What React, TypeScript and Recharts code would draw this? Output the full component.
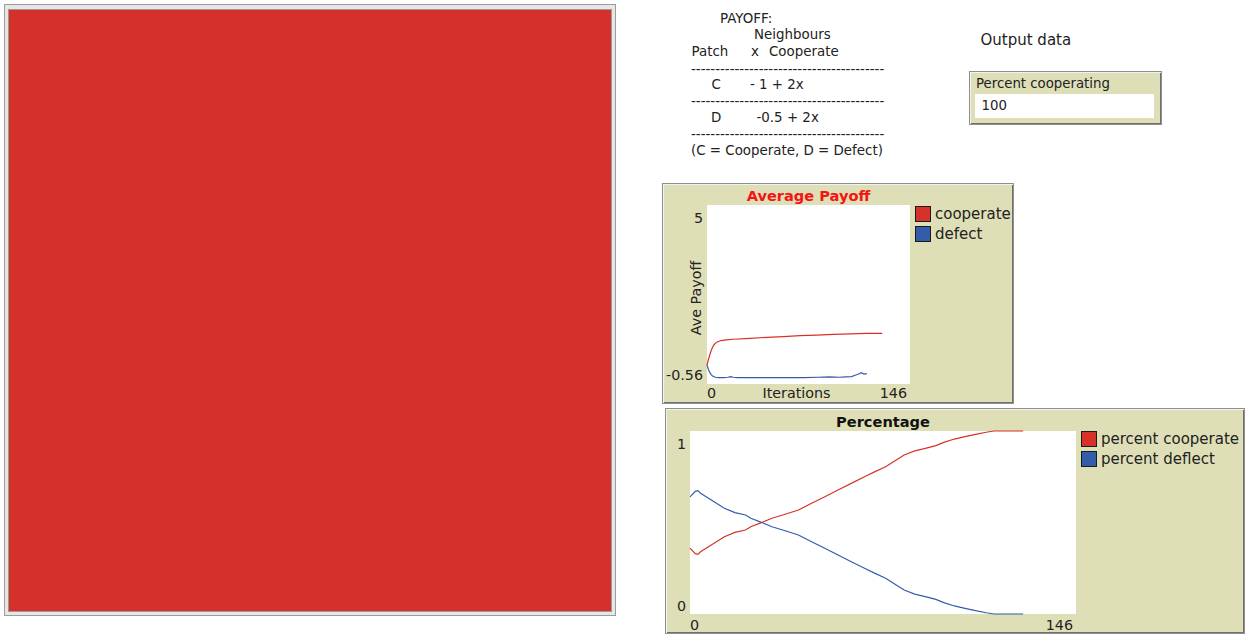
import { CartesianGrid, Label, Legend, Line, LineChart, XAxis, YAxis } from "recharts";

const FONT = "'DejaVu Sans', sans-serif";
const INK = "#222";
const RED = "#d73229";
const BLUE = "#345da9";
const PANEL = "#dfdfb7";

// x range shared by both plots
const iterRange = [0, 146];

// Average Payoff plot
const payoffRange = [-0.56, 5];
const coopPayoffIter = [0, 1, 2, 3, 4, 5, 7, 10, 14, 19, 31, 43, 55, 67, 79, 91, 103, 115, 126];
const coopPayoff = [0.02, 0.2, 0.34, 0.48, 0.58, 0.66, 0.74, 0.79, 0.81, 0.83, 0.86, 0.89, 0.91, 0.94, 0.96, 0.98, 1.0, 1.01, 1.01];
const defectPayoffIter = [0, 1, 2, 3, 4, 6, 8, 12, 15, 17, 19, 22, 30, 50, 70, 80, 88, 95, 100, 104, 107, 109, 111, 113, 115];
const defectPayoff = [0.02, -0.1, -0.2, -0.27, -0.31, -0.35, -0.36, -0.36, -0.35, -0.33, -0.35, -0.36, -0.36, -0.36, -0.36, -0.35, -0.34, -0.35, -0.34, -0.33, -0.28, -0.25, -0.21, -0.25, -0.24];

// Percentage plot
const pctRange = [0, 1];
const pctIter = [0, 2, 3, 4, 7, 10, 13, 17, 21, 23, 27, 31, 36, 41, 46, 51, 56, 61, 66, 70, 74, 78, 81, 85, 89, 93, 96, 100, 104, 108, 112, 115, 126];
const pctCooperate = [0.36, 0.33, 0.326, 0.34, 0.368, 0.395, 0.422, 0.446, 0.459, 0.477, 0.499, 0.523, 0.545, 0.568, 0.605, 0.641, 0.678, 0.714, 0.75, 0.778, 0.805, 0.842, 0.869, 0.891, 0.905, 0.92, 0.938, 0.956, 0.969, 0.982, 0.993, 1, 1];
const pctDefect = [0.64, 0.67, 0.674, 0.66, 0.632, 0.605, 0.578, 0.554, 0.541, 0.523, 0.501, 0.477, 0.455, 0.432, 0.395, 0.359, 0.322, 0.286, 0.25, 0.222, 0.195, 0.158, 0.131, 0.109, 0.095, 0.08, 0.062, 0.044, 0.031, 0.018, 0.007, 0, 0];

type Series = { key: string; xs: number[]; ys: number[] };

function mergeSeries(series: Series[]) {
	const rows = new Map<number, Record<string, number>>();
	series.forEach((s) =>
		s.xs.forEach((x, i) => {
			const row = rows.get(x) ?? { iter: x };
			row[s.key] = s.ys[i];
			rows.set(x, row);
		}),
	);
	return [...rows.values()].sort((a, b) => a.iter - b.iter);
}

const payoffData = mergeSeries([
	{ key: "cooperate", xs: coopPayoffIter, ys: coopPayoff },
	{ key: "defect", xs: defectPayoffIter, ys: defectPayoff },
]);
const pctData = mergeSeries([
	{ key: "percent cooperate", xs: pctIter, ys: pctCooperate },
	{ key: "percent deflect", xs: pctIter, ys: pctDefect },
]);

const tickFont = { fontFamily: FONT, fontSize: 14.3, fill: INK };

const makeXTick = (gap: number) => (props: any) => {
	const { x, y, payload } = props;
	const last = payload.value === iterRange[1];
	return (
		<text x={last ? x - 3 : x} y={y + gap} textAnchor={last ? "end" : "start"} dominantBaseline="central" {...tickFont}>
			{payload.value}
		</text>
	);
};

const makeYTick = (top: number, topOff: number, botOff: number) => (props: any) => {
	const { x, y, payload } = props;
	const isTop = payload.value === top;
	return (
		<text x={x - 4} y={isTop ? y + topOff : y - botOff} textAnchor="end" dominantBaseline="central" {...tickFont}>
			{payload.value}
		</text>
	);
};

const legendContent = (rowH: number) => (props: any) => (
	<div>
		{(props.payload ?? []).map((e: any) => (
			<div key={e.value} style={{ display: "flex", alignItems: "center", height: rowH }}>
				<span style={{ width: 14, height: 14, border: "1px solid #1a1a1a", background: e.color, marginRight: 4, boxSizing: "content-box" }} />
				<span style={{ fontFamily: FONT, fontSize: 15, lineHeight: "16px", color: INK, whiteSpace: "nowrap" }}>{e.value}</span>
			</div>
		))}
	</div>
);

function Txt({ x, cy, size = 13.4, children, bold, color = INK }: any) {
	return (
		<div
			style={{
				position: "absolute",
				left: x,
				top: cy - size * 0.58,
				fontSize: size,
				lineHeight: `${size * 1.2}px`,
				fontFamily: FONT,
				fontWeight: bold ? "bold" : "normal",
				color,
				whiteSpace: "pre",
			}}
		>
			{children}
		</div>
	);
}

const DASHES = "-".repeat(40);

const panelStyle = (left: number, top: number, width: number, height: number): React.CSSProperties => ({
	position: "absolute",
	left,
	top,
	width,
	height,
	boxSizing: "border-box",
	background: PANEL,
	border: "1px solid #8f8f8f",
	boxShadow: "inset 1px 1px 0 #f2f2f2, inset -1px -1px 0 #6f6f6f",
});

function PayoffPlot() {
	// box 662,183 352x221 ; plot area 707..910 x 205..384
	return (
		<div style={{ position: "absolute", left: 662, top: 183 }}>
			<div style={panelStyle(0, 0, 352, 221)} />
			<div style={{ position: "absolute", left: 45, width: 203, top: 4, textAlign: "center", fontFamily: FONT, fontSize: 14.6, fontWeight: "bold", color: "#f41414", lineHeight: "17px" }}>
				Average Payoff
			</div>
			<LineChart width={352} height={221} data={payoffData} margin={{ top: 22, right: 104, bottom: 2, left: 5 }} style={{ position: "absolute", left: 0, top: 0 }}>
				<CartesianGrid fill="#fff" stroke="none" horizontal={false} vertical={false} />
				<XAxis dataKey="iter" type="number" domain={iterRange} ticks={iterRange} interval={0} height={18} axisLine={false} tickLine={false} tickSize={0} tickMargin={0} tick={makeXTick(9)}>
					<Label
						content={(p: any) => {
							const vb = p.viewBox;
							return (
								<text x={vb.x + vb.width / 2 - 12} y={vb.y + 9} textAnchor="middle" dominantBaseline="central" {...tickFont}>
									Iterations
								</text>
							);
						}}
					/>
				</XAxis>
				<YAxis type="number" domain={payoffRange} ticks={payoffRange} interval={0} width={40} axisLine={false} tickLine={false} tickSize={0} tickMargin={0} tick={makeYTick(payoffRange[1], 13, 9)}>
					<Label
						content={(p: any) => {
							const vb = p.viewBox;
							const cx = vb.x + vb.width - 11;
							const cy = vb.y + vb.height / 2 + 3.5;
							return (
								<text x={cx} y={cy} transform={`rotate(-90 ${cx} ${cy})`} textAnchor="middle" dominantBaseline="central" {...tickFont}>
									Ave Payoff
								</text>
							);
						}}
					/>
				</YAxis>
				<Line dataKey="cooperate" name="cooperate" stroke={RED} strokeWidth={1.2} dot={false} connectNulls isAnimationActive={false} />
				<Line dataKey="defect" name="defect" stroke={BLUE} strokeWidth={1.2} dot={false} connectNulls isAnimationActive={false} />
				<Legend layout="vertical" align="center" verticalAlign="middle" wrapperStyle={{ left: 253, top: 21, width: 100 }} content={legendContent(20)} />
			</LineChart>
		</div>
	);
}

function PercentPlot() {
	// box 665,408 580x226 ; plot area 690..1076 x 431..614
	return (
		<div style={{ position: "absolute", left: 665, top: 408 }}>
			<div style={panelStyle(0, 0, 580, 226)} />
			<div style={{ position: "absolute", left: 25, width: 386, top: 4.5, textAlign: "center", fontFamily: FONT, fontSize: 14.6, fontWeight: "bold", color: "#111", lineHeight: "17px" }}>
				Percentage
			</div>
			<LineChart width={580} height={226} data={pctData} margin={{ top: 23, right: 169, bottom: 2, left: 5 }} style={{ position: "absolute", left: 0, top: 0 }}>
				<CartesianGrid fill="#fff" stroke="none" horizontal={false} vertical={false} />
				<XAxis dataKey="iter" type="number" domain={iterRange} ticks={iterRange} interval={0} height={18} axisLine={false} tickLine={false} tickSize={0} tickMargin={0} tick={makeXTick(11)} />
				<YAxis type="number" domain={pctRange} ticks={pctRange} interval={0} width={20} axisLine={false} tickLine={false} tickSize={0} tickMargin={0} tick={makeYTick(pctRange[1], 12.5, 8)} />
				<Line dataKey="percent cooperate" name="percent cooperate" stroke={RED} strokeWidth={1.2} dot={false} isAnimationActive={false} />
				<Line dataKey="percent deflect" name="percent deflect" stroke={BLUE} strokeWidth={1.2} dot={false} isAnimationActive={false} />
				<Legend layout="vertical" align="center" verticalAlign="middle" wrapperStyle={{ left: 416, top: 20.2, width: 165 }} content={legendContent(20.7)} />
			</LineChart>
		</div>
	);
}

export default function App() {
	return (
		<div style={{ position: "absolute", left: 0, top: 0, width: 1253, height: 635, background: "#fff", overflow: "hidden", fontFamily: FONT }}>
			{/* world view */}
			<div style={{ position: "absolute", left: 4, top: 4, width: 612, height: 612, boxSizing: "border-box", border: "1px solid #9c9c9c", background: "#e6e6e6" }} />
			<div style={{ position: "absolute", left: 8, top: 9, width: 604, height: 603, boxSizing: "border-box", border: "1px solid #9a9a9a", background: "#d5302b" }} />

			{/* payoff note */}
			<Txt x={720} cy={18.3}>PAYOFF:</Txt>
			<Txt x={754} cy={34.3}>Neighbours</Txt>
			<Txt x={691.5} cy={51.7}>Patch</Txt>
			<Txt x={751} cy={51.7}>x</Txt>
			<Txt x={769} cy={51.7}>Cooperate</Txt>
			<Txt x={691} cy={69.3}>{DASHES}</Txt>
			<Txt x={711.5} cy={85}>C</Txt>
			<Txt x={750} cy={85}>- 1 + 2x</Txt>
			<Txt x={691} cy={101.8}>{DASHES}</Txt>
			<Txt x={711} cy={117.7}>D</Txt>
			<Txt x={756.5} cy={117.7}>-0.5 + 2x</Txt>
			<Txt x={691} cy={134.6}>{DASHES}</Txt>
			<Txt x={691} cy={151}>(C = Cooperate, D = Defect)</Txt>

			<Txt x={980.5} cy={40} size={15}>Output data</Txt>

			{/* monitor */}
			<div style={panelStyle(969, 71, 193, 54)} />
			<Txt x={976} cy={83.5} size={13.3}>Percent cooperating</Txt>
			<div style={{ position: "absolute", left: 975, top: 94, width: 179, height: 23.5, background: "#fff" }} />
			<Txt x={981.5} cy={106} size={13.3}>100</Txt>

			<PayoffPlot />
			<PercentPlot />
		</div>
	);
}
